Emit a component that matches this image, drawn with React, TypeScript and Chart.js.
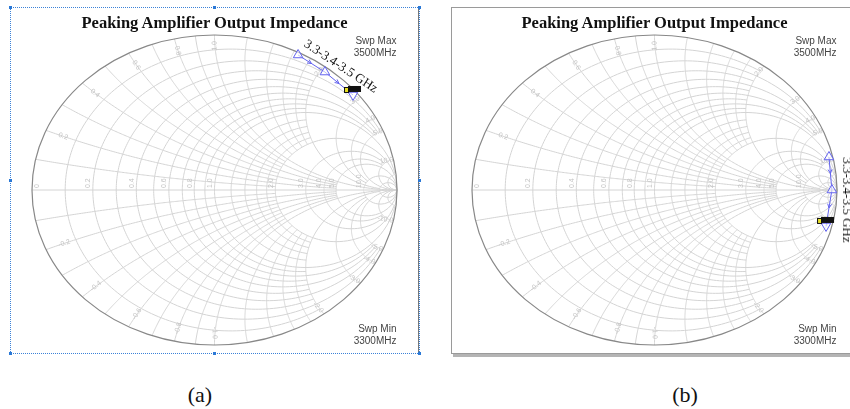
import React, { useEffect, useRef } from 'react';
import { Chart, registerables } from 'chart.js';

Chart.register(...registerables);

// sweep points
const sweepFreqGHz = [3.3, 3.4, 3.5];
const panelAGammaRe = [0.458, 0.605, 0.759];
const panelAGammaIm = [0.871, 0.761, 0.613];
const panelBGammaRe = [0.956, 0.972, 0.94];
const panelBGammaIm = [0.213, 0.0, -0.232];

// smith grid: normalised resistance circles / reactance arcs and how far each one runs
const resistanceCircles = [0.1, 0.2, 0.3, 0.4, 0.5, 0.6, 0.7, 0.8, 0.9, 1, 1.2, 1.4, 1.6, 1.8, 2, 3, 4, 5, 10, 20];
const resistanceReach = [2, 5, 2, 5, 2, 5, 2, 5, 2, Infinity, 2, 2, 2, 2, 20, 10, 10, Infinity, Infinity, Infinity];
const reactanceArcs = [0.1, 0.2, 0.3, 0.4, 0.5, 0.6, 0.7, 0.8, 0.9, 1, 1.2, 1.4, 1.6, 1.8, 2, 3, 4, 5, 10, 20];
const reactanceReach = [2, 5, 2, 5, 2, 5, 2, 5, 2, Infinity, 2, 2, 2, 2, 20, 10, 10, Infinity, Infinity, Infinity];
const resistanceLabels = [0, 0.2, 0.4, 0.6, 0.8, 1.0, 2.0, 3.0, 4.0, 5.0, 10.0];
const reactanceLabels = [0.2, 0.4, 0.6, 0.8, 1.0, 2.0, 3.0, 4.0, 5.0, 10.0];

const gamma = (r: number, x: number) => {
  const d = (r + 1) * (r + 1) + x * x;
  return { re: (r * r + x * x - 1) / d, im: (2 * x) / d };
};

const GRID = '#d4d4d4';
const TRACE = '#6262ee';

const smithGrid = {
  id: 'smithGrid',
  beforeDatasetsDraw(chart: any) {
    const { ctx } = chart;
    const sx = chart.scales.x;
    const sy = chart.scales.y;
    const px = (g: { re: number; im: number }) => [sx.getPixelForValue(g.re), sy.getPixelForValue(g.im)];
    const cx = sx.getPixelForValue(0);
    const cy = sy.getPixelForValue(0);
    const rx = sx.getPixelForValue(1) - cx;
    const ry = cy - sy.getPixelForValue(1);
    const N = 180;

    ctx.save();
    ctx.strokeStyle = GRID;
    ctx.lineWidth = 1;

    resistanceCircles.forEach((r, i) => {
      const tmax = Math.atan(resistanceReach[i]);
      ctx.beginPath();
      for (let k = 0; k <= N; k++) {
        const t = -tmax + (2 * tmax * k) / N;
        const [a, b] = px(gamma(r, Math.tan(t)));
        k === 0 ? ctx.moveTo(a, b) : ctx.lineTo(a, b);
      }
      ctx.stroke();
    });

    reactanceArcs.forEach((xv, i) => {
      const pmax = Math.atan(reactanceReach[i]);
      [1, -1].forEach((s) => {
        ctx.beginPath();
        for (let k = 0; k <= N; k++) {
          const p = (pmax * k) / N;
          const [a, b] = px(gamma(Math.tan(p), s * xv));
          k === 0 ? ctx.moveTo(a, b) : ctx.lineTo(a, b);
        }
        ctx.stroke();
      });
    });

    // real axis
    ctx.beginPath();
    ctx.moveTo(cx - rx, cy);
    ctx.lineTo(cx + rx, cy);
    ctx.stroke();

    // outer rim
    ctx.strokeStyle = '#888';
    ctx.lineWidth = 1.2;
    ctx.beginPath();
    ctx.ellipse(cx, cy, rx, ry, 0, 0, Math.PI * 2);
    ctx.stroke();

    // faint grid labels
    ctx.fillStyle = '#c4c4c4';
    ctx.font = '7px "Liberation Sans", Arial, sans-serif';
    resistanceLabels.forEach((r) => {
      const [a] = px(gamma(r, 0));
      ctx.save();
      ctx.translate(r === 0 ? a + 9 : a - 1, cy - 2);
      ctx.rotate(-Math.PI / 2);
      ctx.textAlign = 'left';
      ctx.textBaseline = 'bottom';
      ctx.fillText(r === 0 ? '0' : r.toFixed(1), 0, 0);
      ctx.restore();
    });
    reactanceLabels.forEach((xv) => {
      [1, -1].forEach((s) => {
        const [a, b] = px(gamma(0.04, s * xv));
        let ang = Math.atan2(b - cy, a - cx);
        ctx.save();
        ctx.translate(a, b);
        let align: CanvasTextAlign = 'right';
        if (Math.cos(ang) < 0) {
          ang += Math.PI;
          align = 'left';
        }
        ctx.rotate(ang);
        ctx.textAlign = align;
        ctx.textBaseline = 'middle';
        ctx.fillText((s < 0 ? '-' : '') + xv.toFixed(1), 0, 0);
        ctx.restore();
      });
    });
    ctx.restore();
  },
};

const sweepMarks = {
  id: 'sweepMarks',
  afterDatasetsDraw(chart: any) {
    const { ctx } = chart;
    const pts = chart.getDatasetMeta(0).data;
    ctx.save();
    ctx.strokeStyle = TRACE;
    ctx.lineWidth = 1;
    for (let i = 0; i < pts.length - 1; i++) {
      const a = pts[i];
      const b = pts[i + 1];
      const mx = (a.x + b.x) / 2;
      const my = (a.y + b.y) / 2;
      const ang = Math.atan2(b.y - a.y, b.x - a.x);
      ctx.beginPath();
      ctx.moveTo(mx - 4.5 * Math.cos(ang - 0.45), my - 4.5 * Math.sin(ang - 0.45));
      ctx.lineTo(mx, my);
      ctx.lineTo(mx - 4.5 * Math.cos(ang + 0.45), my - 4.5 * Math.sin(ang + 0.45));
      ctx.stroke();
    }
    // marker tag on the last sweep point
    const last = pts[pts.length - 1];
    ctx.fillStyle = '#111';
    ctx.fillRect(last.x - 5, last.y - 9, 13, 6);
    ctx.fillStyle = '#e8e020';
    ctx.fillRect(last.x - 8, last.y - 7, 3, 4);
    ctx.strokeStyle = '#111';
    ctx.strokeRect(last.x - 8.5, last.y - 7.5, 4, 5);
    ctx.restore();
  },
};

type PanelProps = {
  re: number[];
  im: number[];
  left: number;
  width: number;
  padLeft: number;
  padRight: number;
};

const SmithPanel: React.FC<PanelProps> = ({ re, im, left, width, padLeft, padRight }) => {
  const ref = useRef<HTMLCanvasElement>(null);

  useEffect(() => {
    if (!ref.current) return;
    const chart = new Chart(ref.current, {
      type: 'scatter',
      data: {
        labels: sweepFreqGHz.map((f) => `${f} GHz`),
        datasets: [
          {
            data: re.map((v, i) => ({ x: v, y: im[i] })),
            showLine: true,
            borderColor: TRACE,
            borderWidth: 1,
            pointStyle: 'triangle',
            pointRadius: 5.5,
            pointBorderWidth: 1,
            pointBorderColor: TRACE,
            pointBackgroundColor: 'rgba(255,255,255,0.6)',
            pointRotation: [0, 0, 180],
          },
        ],
      },
      options: {
        responsive: false,
        animation: false,
        maintainAspectRatio: false,
        layout: { padding: { left: padLeft, right: padRight, top: 28, bottom: 9 } },
        scales: {
          x: { type: 'linear', min: -1, max: 1, display: false },
          y: { type: 'linear', min: -1, max: 1, display: false },
        },
        plugins: { legend: { display: false }, tooltip: { enabled: false } },
      },
      plugins: [smithGrid, sweepMarks],
    } as any);
    return () => chart.destroy();
  }, [re, im, padLeft, padRight]);

  return (
    <canvas
      ref={ref}
      width={width}
      height={347}
      style={{ position: 'absolute', left, top: 7, width, height: 347 }}
    />
  );
};

const serif = '"Liberation Serif", "Times New Roman", serif';
const sans = '"Liberation Sans", Arial, sans-serif';

const Texts: React.FC<{ cx: number }> = ({ cx }) => (
  <>
    <div
      style={{
        position: 'absolute', left: cx - 160, width: 320, top: 14, textAlign: 'center',
        font: `bold 16.5px ${serif}`, lineHeight: '18px', color: '#111',
      }}
    >
      Peaking Amplifier Output Impedance
    </div>
    <div
      style={{
        position: 'absolute', left: cx + 182 - 100, width: 100, top: 35, textAlign: 'right',
        font: `10px ${sans}`, lineHeight: '11.5px', color: '#444',
      }}
    >
      Swp Max<br />3500MHz
    </div>
    <div
      style={{
        position: 'absolute', left: cx + 182 - 100, width: 100, top: 323, textAlign: 'right',
        font: `10px ${sans}`, lineHeight: '11.5px', color: '#444',
      }}
    >
      Swp Min<br />3300MHz
    </div>
  </>
);

const handle = (l: number, t: number) => (
  <div key={`${l}-${t}`} style={{ position: 'absolute', left: l - 1.5, top: t - 1.5, width: 3, height: 3, background: '#2a78d6' }} />
);

const App: React.FC = () => {
  const sweepText = sweepFreqGHz.join('-') + ' GHz';
  return (
    <div style={{ position: 'absolute', left: 0, top: 0, width: 850, height: 409, overflow: 'hidden', background: '#fff' }}>
      {/* panel (a) frame: selected, dotted */}
      <div style={{ position: 'absolute', left: 10, top: 7, width: 408, height: 345, borderRight: '1px solid #777' }} />
      <div style={{ position: 'absolute', left: 10, top: 7, width: 408, height: 345, border: '1px dotted #3b82d8' }} />
      {[10, 214, 419].flatMap((l) => [7, 180, 353].filter((t) => !(l === 214 && t === 180)).map((t) => handle(l, t)))}

      {/* panel (b) frame */}
      <div
        style={{
          position: 'absolute', left: 451, top: 7, width: 420, height: 345,
          border: '1px solid #9a9a9a', boxShadow: '2px 3px 0 #b4b4b4',
        }}
      />

      <SmithPanel re={panelAGammaRe} im={panelAGammaIm} left={10} width={410} padLeft={22} padRight={23} />
      <SmithPanel re={panelBGammaRe} im={panelBGammaIm} left={451} width={399} padLeft={21} padRight={13} />

      <Texts cx={214.5} />
      <Texts cx={654.5} />

      <div
        style={{
          position: 'absolute', left: 341, top: 66, transform: 'translate(-50%, -50%) rotate(33.5deg)',
          font: `13px ${serif}`, whiteSpace: 'nowrap', color: '#111',
        }}
      >
        {sweepText}
      </div>
      <div
        style={{
          position: 'absolute', left: 847, top: 200, transform: 'translate(-50%, -50%) rotate(90deg)',
          font: `13px ${serif}`, whiteSpace: 'nowrap', color: '#111',
        }}
      >
        {sweepText}
      </div>

      <div style={{ position: 'absolute', left: 150, width: 100, top: 382, textAlign: 'center', font: `22px ${serif}`, lineHeight: '26px', color: '#111' }}>
        (a)
      </div>
      <div style={{ position: 'absolute', left: 635, width: 100, top: 382, textAlign: 'center', font: `22px ${serif}`, lineHeight: '26px', color: '#111' }}>
        (b)
      </div>
    </div>
  );
};

export default App;
